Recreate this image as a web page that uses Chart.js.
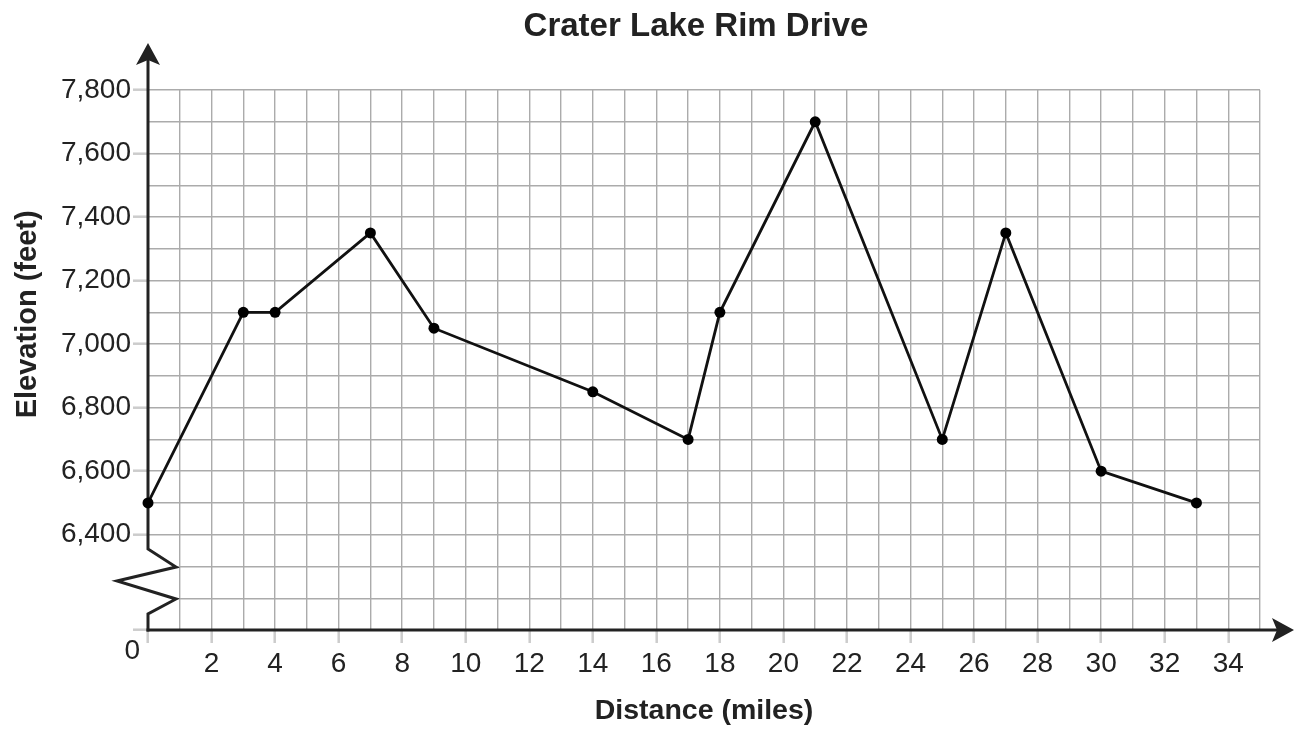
<!DOCTYPE html>
<html><head><meta charset="utf-8">
<script src="https://cdn.jsdelivr.net/npm/chart.js@4.4.1/dist/chart.umd.min.js"></script>
<style>html,body{margin:0;padding:0;background:#fff;}canvas{display:block;}</style>
</head><body>
<canvas id="c" width="1297" height="732"></canvas>
<script>
// ---- data ----
const distanceMiles = [0, 3, 4, 7, 9, 14, 17, 18, 21, 25, 27, 30, 33];
const elevationFeet = [6500, 7100, 7100, 7350, 7050, 6850, 6700, 7100, 7700, 6700, 7350, 6600, 6500];
const xTickLabels = [2, 4, 6, 8, 10, 12, 14, 16, 18, 20, 22, 24, 26, 28, 30, 32, 34];
const yTickLabels = [6400, 6600, 6800, 7000, 7200, 7400, 7600, 7800];
const chartTitle = 'Crater Lake Rim Drive';
const xAxisTitle = 'Distance (miles)';
const yAxisTitle = 'Elevation (feet)';
const originLabel = '0';
const xRange = [0, 35];
const yRange = [6100, 7800];

const FONT = '"Liberation Sans", Arial, Helvetica, sans-serif';
const INK = '#222';
const GRID = '#ababab';
const TICK = '#cccccc';

Chart.defaults.font.family = FONT;
Chart.defaults.color = INK;

const decor = {
  id: 'decor',
  beforeDatasetsDraw(chart) {
    const {ctx, chartArea: a, scales: {x, y}} = chart;
    const ox = x.getPixelForValue(xRange[0]);
    const oy = y.getPixelForValue(yRange[0]);
    ctx.save();
    // blank the grid left of the axis break
    ctx.fillStyle = '#fff';
    ctx.beginPath();
    ctx.moveTo(ox - 40, oy - 81);
    ctx.lineTo(ox, oy - 81);
    ctx.lineTo(ox + 28, oy - 63);
    ctx.lineTo(ox - 31, oy - 49);
    ctx.lineTo(ox + 28, oy - 31);
    ctx.lineTo(ox, oy - 16);
    ctx.lineTo(ox - 40, oy - 16);
    ctx.closePath();
    ctx.fill();
    // axes
    ctx.strokeStyle = INK;
    ctx.lineWidth = 3;
    ctx.lineJoin = 'miter';
    ctx.beginPath();
    ctx.moveTo(ox, oy + 1.5);
    ctx.lineTo(ox, oy - 16);
    ctx.lineTo(ox + 28, oy - 31);
    ctx.lineTo(ox - 31, oy - 49);
    ctx.lineTo(ox + 28, oy - 63);
    ctx.lineTo(ox, oy - 81);
    ctx.lineTo(ox, a.top - 30);
    ctx.stroke();
    ctx.beginPath();
    ctx.moveTo(ox - 1.5, oy);
    ctx.lineTo(a.right + 18, oy);
    ctx.stroke();
    // arrow heads
    ctx.fillStyle = INK;
    ctx.beginPath();
    ctx.moveTo(ox, a.top - 47);
    ctx.lineTo(ox + 12, a.top - 25);
    ctx.lineTo(ox, a.top - 30);
    ctx.lineTo(ox - 12, a.top - 25);
    ctx.closePath();
    ctx.fill();
    ctx.beginPath();
    ctx.moveTo(a.right + 34, oy);
    ctx.lineTo(a.right + 12, oy - 12);
    ctx.lineTo(a.right + 17, oy);
    ctx.lineTo(a.right + 12, oy + 12);
    ctx.closePath();
    ctx.fill();
    ctx.restore();
  },
  afterDraw(chart) {
    const {ctx, chartArea: a, scales: {x, y}} = chart;
    const ox = x.getPixelForValue(xRange[0]);
    const oy = y.getPixelForValue(yRange[0]);
    ctx.save();
    ctx.fillStyle = INK;
    // title
    ctx.font = 'bold 33px ' + FONT;
    ctx.textAlign = 'center';
    ctx.textBaseline = 'alphabetic';
    ctx.fillText(chartTitle, (a.left + a.right) / 2 - 8, 36);
    // y axis title
    const yc = (y.getPixelForValue(yTickLabels[0]) + y.getPixelForValue(yTickLabels[yTickLabels.length - 1])) / 2 + 2;
    ctx.save();
    ctx.translate(36, yc);
    ctx.rotate(-Math.PI / 2);
    ctx.font = 'bold 29px ' + FONT;
    ctx.fillText(yAxisTitle, 0, 0);
    ctx.restore();
    // origin label
    ctx.font = '28px ' + FONT;
    ctx.textAlign = 'right';
    ctx.textBaseline = 'middle';
    ctx.fillText(originLabel, ox - 8, oy + 21);
    ctx.restore();
  }
};

const points = distanceMiles.map((d, i) => ({x: d, y: elevationFeet[i]}));

new Chart(document.getElementById('c'), {
  type: 'line',
  data: {
    datasets: [{
      data: points,
      clip: false,
      borderColor: '#111',
      borderWidth: 2.8,
      backgroundColor: '#000',
      pointBackgroundColor: '#000',
      pointBorderWidth: 0,
      pointRadius: 5.5,
      pointHoverRadius: 5.5,
      tension: 0,
      fill: false
    }]
  },
  options: {
    responsive: false,
    animation: false,
    devicePixelRatio: 1,
    events: [],
    layout: {padding: {left: 0, right: 37, top: 90, bottom: 0}},
    plugins: {legend: {display: false}, tooltip: {enabled: false}, title: {display: false}},
    scales: {
      x: {
        type: 'linear',
        min: xRange[0], max: xRange[1],
        afterFit(s) { s.height = 102; },
        border: {display: false},
        grid: {
          color: c => (c.tick && c.tick.value === xRange[0]) ? 'rgba(0,0,0,0)' : GRID,
          lineWidth: 1.4,
          drawTicks: true,
          tickLength: 13,
          tickWidth: 2.5,
          tickColor: c => (c.tick && (c.tick.value === 0 || xTickLabels.includes(c.tick.value))) ? TICK : 'rgba(0,0,0,0)'
        },
        ticks: {
          stepSize: 1,
          autoSkip: false,
          maxRotation: 0,
          padding: 4,
          color: INK,
          font: {size: 28},
          callback: v => xTickLabels.includes(v) ? String(v) : ''
        },
        title: {display: true, text: xAxisTitle, color: INK, font: {size: 28.5, weight: 'bold'}, padding: {top: 0, bottom: 4}}
      },
      y: {
        type: 'linear',
        min: yRange[0], max: yRange[1],
        afterFit(s) { s.width = 148; },
        border: {display: false},
        grid: {
          color: c => (c.tick && c.tick.value === yRange[0]) ? 'rgba(0,0,0,0)' : GRID,
          lineWidth: 1.4,
          drawTicks: true,
          tickLength: 15,
          tickWidth: 2.5,
          tickColor: c => (c.tick && (c.tick.value === yRange[0] || yTickLabels.includes(c.tick.value))) ? TICK : 'rgba(0,0,0,0)'
        },
        ticks: {
          stepSize: 100,
          autoSkip: false,
          padding: 2,
          color: INK,
          font: {size: 28},
          callback: v => yTickLabels.includes(v) ? v.toLocaleString('en-US') : ''
        }
      }
    }
  },
  plugins: [decor]
});
</script>
</body></html>
